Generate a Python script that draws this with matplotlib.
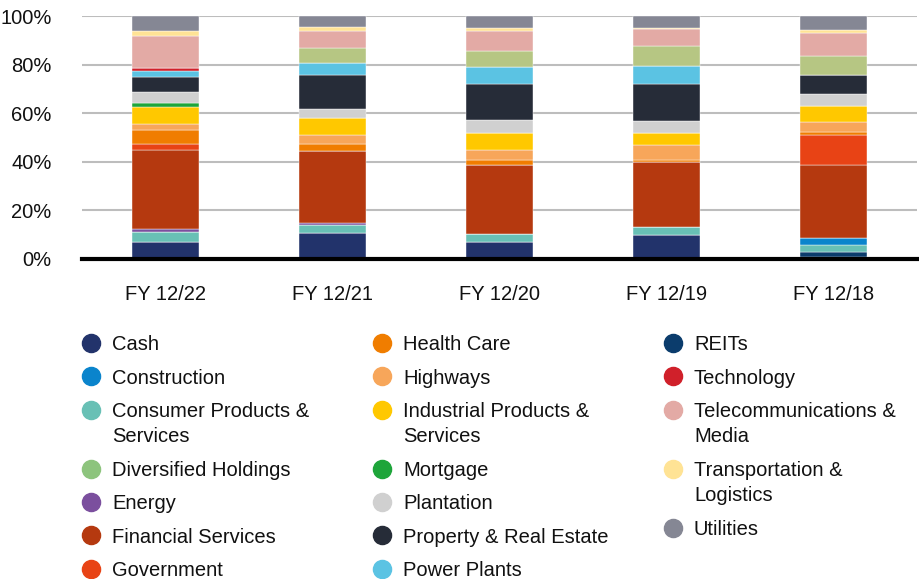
import matplotlib.pyplot as plt
import numpy as np

plt.rcParams['font.family'] = ['Liberation Sans', 'DejaVu Sans']

years = ["FY 12/22", "FY 12/21", "FY 12/20", "FY 12/19", "FY 12/18"]

# % share per sector, one value per year (same order as years)
cash = [6.9, 10.6, 6.9, 9.9, 1.0]
reits = [0, 0, 0, 0, 2.0]
consumer = [4.4, 3.2, 3.2, 3.2, 2.9]
construction = [0, 0, 0, 0, 2.7]
energy = [1.1, 1.2, 0, 0, 0]
financial = [32.3, 29.4, 28.7, 26.8, 30.1]
government = [2.5, 0, 0, 0, 12.5]
health_care = [5.8, 2.9, 1.9, 0.8, 1.0]
highways = [2.6, 3.8, 4.3, 6.3, 4.0]
industrial = [6.9, 6.9, 6.9, 4.8, 6.7]
mortgage = [1.9, 0, 0, 0, 0]
plantation = [4.3, 3.7, 5.1, 5.1, 5.1]
property = [6.3, 13.9, 15.0, 15.0, 7.6]
power_plants = [2.3, 4.9, 6.9, 7.7, 0]
technology = [1.5, 0, 0, 0, 0]
diversified = [0, 6.3, 6.9, 8.0, 8.0]
telecom = [12.9, 6.9, 8.1, 6.9, 9.5]
transport = [2.1, 1.8, 1.2, 0.7, 1.1]
utilities = [6.3, 4.5, 5.1, 4.8, 5.9]

colors = {
    "Cash": "#22336b",
    "Construction": "#0a84cc",
    "Consumer Products &\nServices": "#68c0b5",
    "Diversified Holdings": "#b6c683",
    "Energy": "#7b4f9e",
    "Financial Services": "#b5390f",
    "Government": "#e84315",
    "Health Care": "#f07d00",
    "Highways": "#f7a65a",
    "Industrial Products &\nServices": "#ffc800",
    "Mortgage": "#1ea53a",
    "Plantation": "#d0d0d0",
    "Property & Real Estate": "#262c38",
    "Power Plants": "#5bc3e3",
    "REITs": "#0b3c6c",
    "Technology": "#d0202a",
    "Telecommunications &\nMedia": "#e3aaa5",
    "Transportation &\nLogistics": "#ffe395",
    "Utilities": "#858794",
}
legend_override = {"Diversified Holdings": "#8dc47d"}

# bottom to top stacking
stack = [
    ("Cash", cash),
    ("REITs", reits),
    ("Consumer Products &\nServices", consumer),
    ("Construction", construction),
    ("Energy", energy),
    ("Financial Services", financial),
    ("Government", government),
    ("Health Care", health_care),
    ("Highways", highways),
    ("Industrial Products &\nServices", industrial),
    ("Mortgage", mortgage),
    ("Plantation", plantation),
    ("Property & Real Estate", property),
    ("Power Plants", power_plants),
    ("Technology", technology),
    ("Diversified Holdings", diversified),
    ("Telecommunications &\nMedia", telecom),
    ("Transportation &\nLogistics", transport),
    ("Utilities", utilities),
]

fig = plt.figure(figsize=(9.2, 5.79), dpi=100)
ax = fig.add_axes([82 / 920, 1 - 259 / 579, 835 / 920, 243 / 579])

x = np.arange(len(years))
bottom = np.zeros(len(years))
for name, vals in stack:
    vals = np.array(vals, dtype=float)
    ax.bar(x, vals, width=0.4, bottom=bottom, color=colors[name],
           edgecolor="white", linewidth=0.3, zorder=3)
    bottom += vals

ax.set_xlim(-0.5, len(years) - 0.5)
ax.set_ylim(0, 100)
ax.set_yticks([0, 20, 40, 60, 80, 100])
ax.set_yticklabels([f"{v}%" for v in range(0, 101, 20)])
ax.set_xticks(x)
ax.set_xticklabels(years)
ax.tick_params(axis="both", length=0, labelsize=14.5, colors="#111111")
ax.tick_params(axis="y", pad=22)
ax.tick_params(axis="x", pad=19)
ax.grid(axis="y", color="#bdbdbd", linewidth=1.5, zorder=0)
for s in ax.spines.values():
    s.set_visible(False)
ax.axhline(0, color="black", linewidth=3, zorder=5, clip_on=False)

# legend, drawn in pixel coords
lg = fig.add_axes([0, 0, 1, 1])
lg.set_xlim(0, 920)
lg.set_ylim(579, 0)
lg.axis("off")

legend_cols = [
    ["Cash", "Construction", "Consumer Products &\nServices", "Diversified Holdings",
     "Energy", "Financial Services", "Government"],
    ["Health Care", "Highways", "Industrial Products &\nServices", "Mortgage",
     "Plantation", "Property & Real Estate", "Power Plants"],
    ["REITs", "Technology", "Telecommunications &\nMedia", "Transportation &\nLogistics",
     "Utilities"],
]
col_x = [91, 382, 673]
for cx, names in zip(col_x, legend_cols):
    y = 343
    for name in names:
        c = legend_override.get(name, colors[name])
        lg.scatter([cx], [y], s=170, color=c, zorder=3)
        lg.text(cx + 21, y - 7.5, name, fontsize=14.5, va="top", ha="left",
                color="#111111", linespacing=1.42)
        y += 33.3 + 25.7 * name.count("\n")

fig.savefig("out.png", dpi=100)
